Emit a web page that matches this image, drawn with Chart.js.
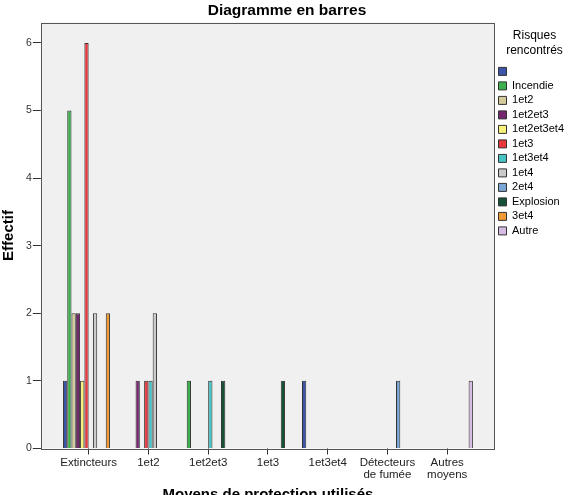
<!DOCTYPE html>
<html>
<head>
<meta charset="utf-8">
<script src="https://cdn.jsdelivr.net/npm/chart.js@4.4.1/dist/chart.umd.min.js"></script>
<style>
  html, body { margin: 0; padding: 0; background: #fff; overflow: hidden; }
  #wrap { width: 574px; height: 508px; position: relative; }
</style>
</head>
<body>
<div id="wrap"><canvas id="chart"></canvas></div>
<script>
// ---- data ----
const CATEGORIES = ['Extincteurs', '1et2', '1et2et3', '1et3', '1et3et4', ['Détecteurs', 'de fumée'], ['Autres', 'moyens']];
const Y_TICKS = [0, 1, 2, 3, 4, 5, 6];

const SERIES_LABELS = ['', 'Incendie', '1et2', '1et2et3', '1et2et3et4', '1et3', '1et3et4', '1et4', '2et4', 'Explosion', '3et4', 'Autre'];
const SERIES_COLORS = ['#3d55a8', '#3cb04c', '#d3ca9a', '#74276f', '#f9f27a', '#e8383d', '#47c3c4', '#cbcbcb', '#7aa6d6', '#145236', '#ef9a35', '#d6bce3'];

const V_BLANK      = [1, 0, 0, 0, 1, 0, 0];
const V_INCENDIE   = [5, 0, 1, 0, 0, 0, 0];
const V_1ET2       = [2, 0, 0, 0, 0, 0, 0];
const V_1ET2ET3    = [2, 1, 0, 0, 0, 0, 0];
const V_1ET2ET3ET4 = [1, 0, 0, 0, 0, 0, 0];
const V_1ET3       = [6, 1, 0, 0, 0, 0, 0];
const V_1ET3ET4    = [0, 1, 1, 0, 0, 0, 0];
const V_1ET4       = [2, 2, 0, 0, 0, 0, 0];
const V_2ET4       = [0, 0, 0, 0, 0, 1, 0];
const V_EXPLOSION  = [0, 0, 1, 1, 0, 0, 0];
const V_3ET4       = [2, 0, 0, 0, 0, 0, 0];
const V_AUTRE      = [0, 0, 0, 0, 0, 0, 1];

const SERIES_VALUES = [V_BLANK, V_INCENDIE, V_1ET2, V_1ET2ET3, V_1ET2ET3ET4, V_1ET3,
                       V_1ET3ET4, V_1ET4, V_2ET4, V_EXPLOSION, V_3ET4, V_AUTRE];

const FONT = "'Liberation Sans', Arial, sans-serif";
Chart.defaults.font.family = FONT;
Chart.defaults.color = '#000';

// grey plot box with dark frame, like the SPSS output
const plotFrame = {
  id: 'plotFrame',
  beforeDatasetsDraw(c) {
    const { ctx, chartArea: a } = c;
    ctx.save();
    ctx.fillStyle = '#f0f0f0';
    ctx.fillRect(a.left, a.top, a.right - a.left, a.bottom - a.top);
    ctx.restore();
  },
  afterDatasetsDraw(c) {
    const { ctx, chartArea: a } = c;
    ctx.save();
    ctx.strokeStyle = '#555';
    ctx.lineWidth = 1;
    ctx.strokeRect(Math.round(a.left) + 0.5, Math.round(a.top) + 0.5,
                   Math.round(a.right - a.left) - 1, Math.round(a.bottom - a.top));
    ctx.restore();
  }
};

const datasets = SERIES_LABELS.map((label, s) => ({
  label,
  data: SERIES_VALUES[s].map((v, i) => ({ x: i, y: v === 0 ? null : v })),
  backgroundColor: SERIES_COLORS[s],
  borderColor: '#333',
  borderWidth: 1,
  categoryPercentage: 0.86,
  barPercentage: 1
}));

new Chart(document.getElementById('chart'), {
  type: 'bar',
  data: { datasets },
  options: {
    responsive: true, maintainAspectRatio: false, animation: false,
    layout: { padding: 0 },
    scales: {
      x: {
        type: 'linear', min: -0.8, max: 6.8, offset: false,
        afterBuildTicks: (s) => { s.ticks = CATEGORIES.map((_, i) => ({ value: i })); },
        border: { display: false },
        grid: { offset: false, drawOnChartArea: false, drawTicks: true, tickLength: 6, color: '#333' },
        ticks: {
          autoSkip: false, maxRotation: 0, padding: 3, color: '#222',
          font: { size: 11.5, lineHeight: 0.98 },
          callback: (v) => CATEGORIES[v]
        },
        title: {
          display: true, text: 'Moyens de protection utilisés', color: '#000',
          font: { size: 15, weight: 'bold' }, padding: { top: 3, bottom: 4 }
        }
      },
      y: {
        min: 0, max: 6.3,
        afterBuildTicks: (s) => { s.ticks = Y_TICKS.map(v => ({ value: v })); },
        border: { display: false },
        grid: { drawOnChartArea: false, drawTicks: true, tickLength: 8, color: '#333' },
        ticks: { padding: 1, color: '#333', font: { size: 10.5 } },
        title: {
          display: true, text: 'Effectif', color: '#000',
          font: { size: 15, weight: 'bold' }, padding: { top: 0, bottom: 7 }
        }
      }
    },
    plugins: {
      title: {
        display: true, text: 'Diagramme en barres', color: '#000',
        font: { size: 15.5, weight: 'bold' }, padding: { top: 1, bottom: 3 }
      },
      legend: {
        position: 'right', align: 'start',
        title: {
          display: true, text: ['Risques', 'rencontrés'], color: '#000',
          font: { size: 12, lineHeight: 1.2 }, padding: { top: 30, bottom: 18 }
        },
        labels: {
          boxWidth: 8, boxHeight: 8, padding: 3.5, color: '#000',
          font: { size: 11 }
        }
      },
      tooltip: { enabled: false }
    }
  },
  plugins: [plotFrame]
});
</script>
</body>
</html>
